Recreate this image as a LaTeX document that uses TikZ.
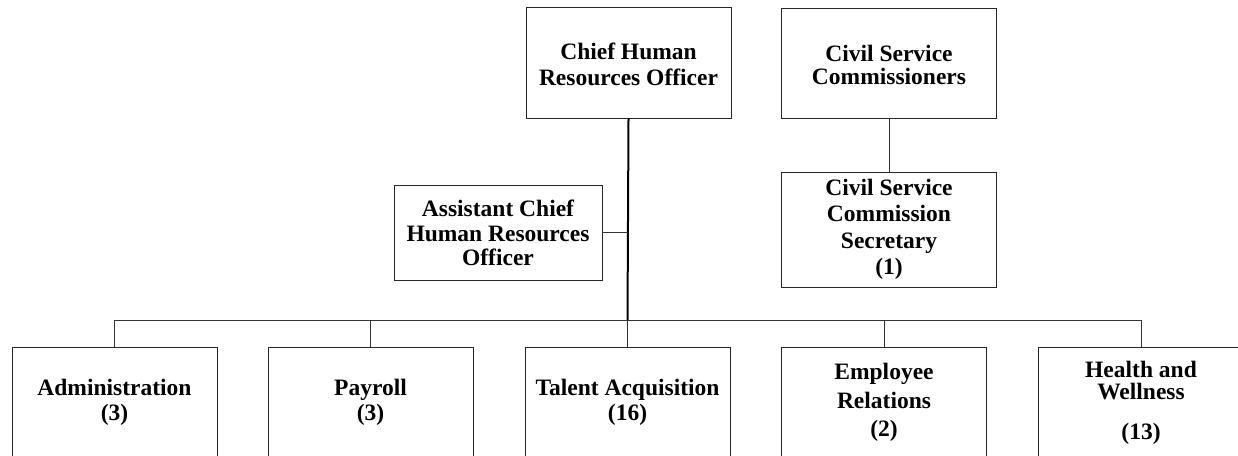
\documentclass[tikz,border=0pt]{standalone}
\usepackage{fontspec}
\setmainfont{Liberation Serif}
\usetikzlibrary{positioning, calc}

\tikzset{
  orgbox/.style={draw=black!85, line width=0.9pt, align=center, font=\fontsize{23.5}{26.5}\selectfont\bfseries,
    minimum width=205pt, minimum height=111pt, inner sep=2pt},
  link/.style={draw=black!80, line width=0.9pt},
  trunk/.style={draw=black, line width=2pt}
}

\begin{document}
\begin{tikzpicture}[x=1pt, y=-1pt]
  \useasboundingbox (0,0) rectangle (1238,455);
  % top row
  \node[orgbox] (chro) at (628.5,62.5) {\\[-6pt]Chief Human\\Resources Officer};
  \node[orgbox, minimum width=215pt, minimum height=110pt] (comm) at (889,63) {\\[-6pt]Civil Service\\[-3pt]Commissioners};
  \node[orgbox, minimum width=215pt, minimum height=115pt] (secr) at (889,229.5) {Civil Service\\Commission\\Secretary\\(1)};
  \node[orgbox, minimum width=208pt, minimum height=95pt] (asst) at (498,232.5) {Assistant Chief\\[-1pt]Human Resources\\[-3pt]Officer};
  % bottom row
  \node[orgbox] (admin) at (114.5,402.5) {Administration\\[-2pt](3)};
  \node[orgbox] (payroll) at (370.5,402.5) {Payroll\\[-2pt](3)};
  \node[orgbox] (talent) at (627.5,402.5) {Talent Acquisition\\[-2pt](16)};
  \node[orgbox] (emp) at (884,402.5) {Employee\\[2pt]Relations\\[2pt](2)};
  \node[orgbox] (health) at (1141,402.5) {Health and\\[-4pt]Wellness\\[13pt](13)};

  \coordinate (bus) at (627.5,320);
  \draw[trunk] (chro.south) -- (bus);
  \draw[link] (asst.east) -- (asst.east -| bus);
  \draw[link] (comm.south) -- (secr.north);
  \draw[link] (admin.north |- bus) -- (health.north |- bus);
  \foreach \unit in {admin, payroll, talent, emp, health}
    \draw[link] (\unit.north) -- (\unit.north |- bus);
\end{tikzpicture}
\end{document}
